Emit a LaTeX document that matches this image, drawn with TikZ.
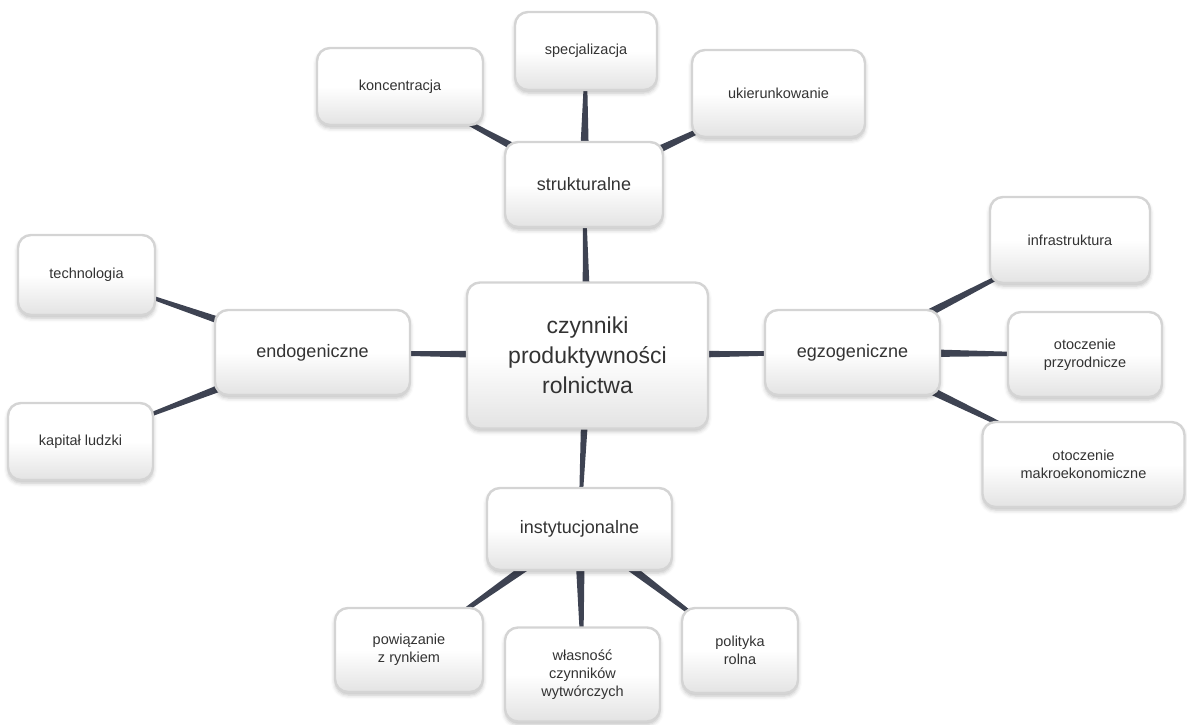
\documentclass[tikz,border=0pt]{standalone}
\usepackage{fontspec}
\setmainfont{Liberation Sans}
\usetikzlibrary{calc,backgrounds,shadows.blur}
\definecolor{linkcol}{RGB}{62,67,82}
\definecolor{txtcol}{RGB}{51,51,51}
\definecolor{edgecol}{RGB}{212,212,212}
% tapered connector: thin at #1, wide at #2 (half widths #3, #4)
\newcommand\conn[4]{%
  \fill[linkcol] ($(#1)!#3!90:(#2)$) -- ($(#2)!#4!-90:(#1)$)
     -- ($(#2)!#4!90:(#1)$) -- ($(#1)!#3!-90:(#2)$) -- cycle;}
\tikzset{
  box/.style={draw=edgecol, line width=2.4pt, rounded corners=13pt,
    top color=white, bottom color=black!11, middle color=white,
    blur shadow={shadow xshift=0pt, shadow yshift=-3pt, shadow blur radius=4pt, shadow opacity=25},
    text=txtcol, align=center, inner sep=0pt},
  hub/.style={box, font=\fontsize{23}{30}\selectfont},
  mid/.style={box, font=\fontsize{18}{22}\selectfont},
  leaf/.style={box, font=\fontsize{14.5}{18}\selectfont},
}
\begin{document}
\begin{tikzpicture}[x=1pt,y=1pt]
\useasboundingbox (0,0) rectangle (1187,-725);
% central node
\node[hub, minimum width=241, minimum height=146] (c) at (587.5,-355.5) {czynniki\\produktywności\\rolnictwa};
% four groups
\node[mid, minimum width=158, minimum height=85] (s) at (584,-184.5) {strukturalne};
\node[mid, minimum width=195, minimum height=85] (en) at (312.5,-352.5) {endogeniczne};
\node[mid, minimum width=175, minimum height=85] (eg) at (852.5,-352.5) {egzogeniczne};
\node[mid, minimum width=185, minimum height=82] (in) at (579.5,-529) {instytucjonalne};
% structural factors
\node[leaf, minimum width=166, minimum height=77] (s1) at (400,-86.5) {koncentracja};
\node[leaf, minimum width=142, minimum height=78] (s2) at (586,-51) {specjalizacja};
\node[leaf, minimum width=173, minimum height=87] (s3) at (778.5,-93.5) {ukierunkowanie};
% endogenous factors
\node[leaf, minimum width=137, minimum height=80] (e1) at (86.5,-275) {technologia};
\node[leaf, minimum width=145, minimum height=77] (e2) at (80.5,-441.5) {kapitał ludzki};
% exogenous factors
\node[leaf, minimum width=160, minimum height=86] (g1) at (1070,-240) {infrastruktura};
\node[leaf, minimum width=154, minimum height=85] (g2) at (1085,-354.5) {otoczenie\\przyrodnicze};
\node[leaf, minimum width=202, minimum height=85] (g3) at (1083.5,-464.5) {otoczenie\\makroekonomiczne};
% institutional factors
\node[leaf, minimum width=148, minimum height=84] (i1) at (409,-650) {powiązanie\\z rynkiem};
\node[leaf, minimum width=155, minimum height=94] (i2) at (582.5,-674.5) {własność\\czynników\\wytwórczych};
\node[leaf, minimum width=116, minimum height=85] (i3) at (740,-650.5) {polityka\\rolna};
\begin{pgfonlayer}{background}
  \conn{s}{c}{1pt}{5pt}
  \conn{en}{c}{1pt}{5pt}
  \conn{eg}{c}{1pt}{5pt}
  \conn{in}{c}{1pt}{5pt}
  \conn{s1}{s}{0.5pt}{5.5pt}
  \conn{s2}{s}{0.5pt}{5.5pt}
  \conn{s3}{s}{0.5pt}{5.5pt}
  \conn{e1}{en}{0.5pt}{5.5pt}
  \conn{e2}{en}{0.5pt}{5.5pt}
  \conn{g1}{eg}{0.5pt}{5.5pt}
  \conn{g2}{eg}{0.5pt}{5.5pt}
  \conn{g3}{eg}{0.5pt}{5.5pt}
  \conn{i1}{in}{0.5pt}{5.5pt}
  \conn{i2}{in}{0.5pt}{5.5pt}
  \conn{i3}{in}{0.5pt}{5.5pt}
\end{pgfonlayer}
\end{tikzpicture}
\end{document}
